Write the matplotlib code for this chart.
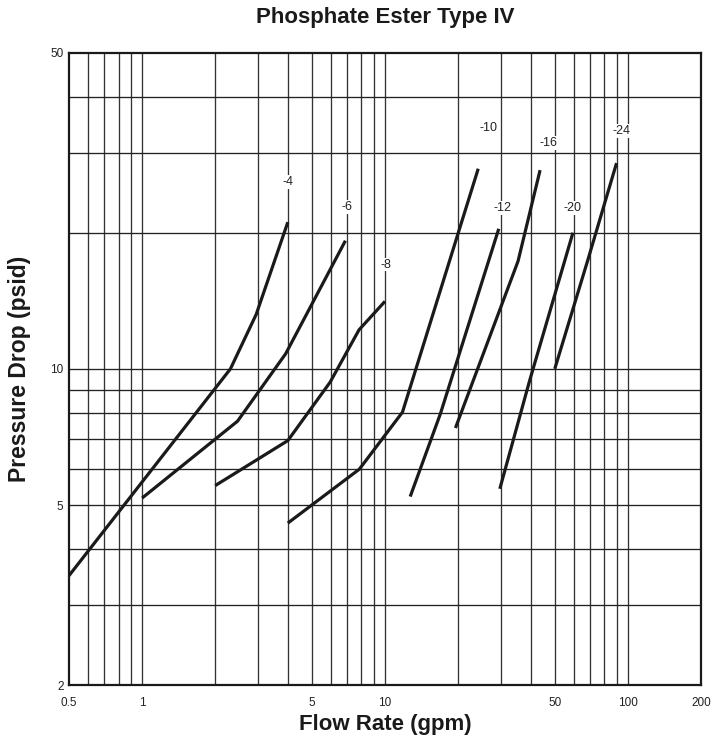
import matplotlib
matplotlib.use("Agg")
import matplotlib.pyplot as plt

plt.rcParams['font.family'] = ['Liberation Sans Narrow', 'Liberation Sans', 'DejaVu Sans']

# ---- data ----
sizes = ["-4", "-6", "-8", "-10", "-12", "-16", "-20", "-24"]
flow = {
    "-4":  [0.5, 2.31, 2.95, 3.98],
    "-6":  [1.0, 2.47, 3.9, 6.87],
    "-8":  [2.0, 3.98, 5.94, 7.82, 10.0],
    "-10": [3.98, 7.84, 11.8, 24.2],
    "-12": [12.7, 16.9, 29.4],
    "-16": [19.5, 35.3, 43.5],
    "-20": [29.7, 39.4, 59.4],
    "-24": [50.0, 68.4, 89.8],
}
pressure = {
    "-4":  [3.49, 10.0, 13.2, 21.1],
    "-6":  [5.18, 7.66, 10.8, 19.2],
    "-8":  [5.52, 6.94, 9.34, 12.2, 14.1],
    "-10": [4.56, 6.0, 8.02, 27.7],
    "-12": [5.22, 7.95, 20.4],
    "-16": [7.4, 17.3, 27.5],
    "-20": [5.43, 9.42, 20.0],
    "-24": [10.0, 17.4, 28.5],
}
label_x = [4.0, 7.0, 10.1, 26.6, 30.6, 47.3, 59.4, 93.8]
label_y = [25.9, 22.8, 17.0, 34.0, 22.7, 31.6, 22.7, 33.6]

x_ticks = [0.5, 1, 5, 10, 50, 100, 200]
x_ticklabels = ["0.5", "1", "5", "10", "50", "100", "200"]
y_ticks = [2, 5, 10, 50]
y_ticklabels = ["2", "5", "10", "50"]
x_grid = [0.6, 0.7, 0.8, 0.9, 1, 2, 3, 4, 5, 6, 7, 8, 9, 10,
          20, 30, 40, 50, 60, 70, 80, 90, 100]
y_grid = [3, 4, 5, 6, 7, 8, 9, 10, 20, 30, 40]

# ---- figure ----
fig = plt.figure(figsize=(7.21, 7.42), dpi=100)
ax = fig.add_axes([69/721, 1 - 685/742, (701 - 69)/721, (685 - 52.7)/742])
ax.set_xscale('log')
ax.set_yscale('log')
ax.set_xlim(0.5, 200)
ax.set_ylim(2, 50)

for gx in x_grid:
    ax.axvline(gx, color='#333333', lw=0.95, zorder=1)
for gy in y_grid:
    ax.axhline(gy, color='#222222', lw=0.95, zorder=1)

for s in sizes:
    ax.plot(flow[s], pressure[s], color='#1a1a1a', lw=2.3,
            solid_capstyle='butt', solid_joinstyle='miter', zorder=3)

for s, lx, ly in zip(sizes, label_x, label_y):
    ax.text(lx, ly, s, ha='center', va='center', fontsize=9, color='#222222',
            bbox=dict(facecolor='white', edgecolor='none', pad=0.6), zorder=4)

ax.minorticks_off()
ax.set_xticks(x_ticks)
ax.set_xticklabels(x_ticklabels)
ax.set_yticks(y_ticks)
ax.set_yticklabels(y_ticklabels)
ax.tick_params(axis='both', length=0, labelsize=8.5, colors='#222222')
ax.tick_params(axis='x', pad=9)
ax.tick_params(axis='y', pad=4)

for sp in ax.spines.values():
    sp.set_linewidth(1.6)
    sp.set_color('#1a1a1a')

ax.set_xlabel("Flow Rate (gpm)", fontsize=16, fontweight='bold', color='#1a1a1a', labelpad=3)
ax.set_ylabel("Pressure Drop (psid)", fontsize=16.5, fontweight='bold', color='#1a1a1a', labelpad=14)
fig.text((69 + 701) / 2 / 721, 1 - 18 / 742, "Phosphate Ester Type IV", ha='center', va='center',
         fontsize=16, fontweight='bold', color='#1a1a1a')

fig.savefig("out.png", dpi=100)
